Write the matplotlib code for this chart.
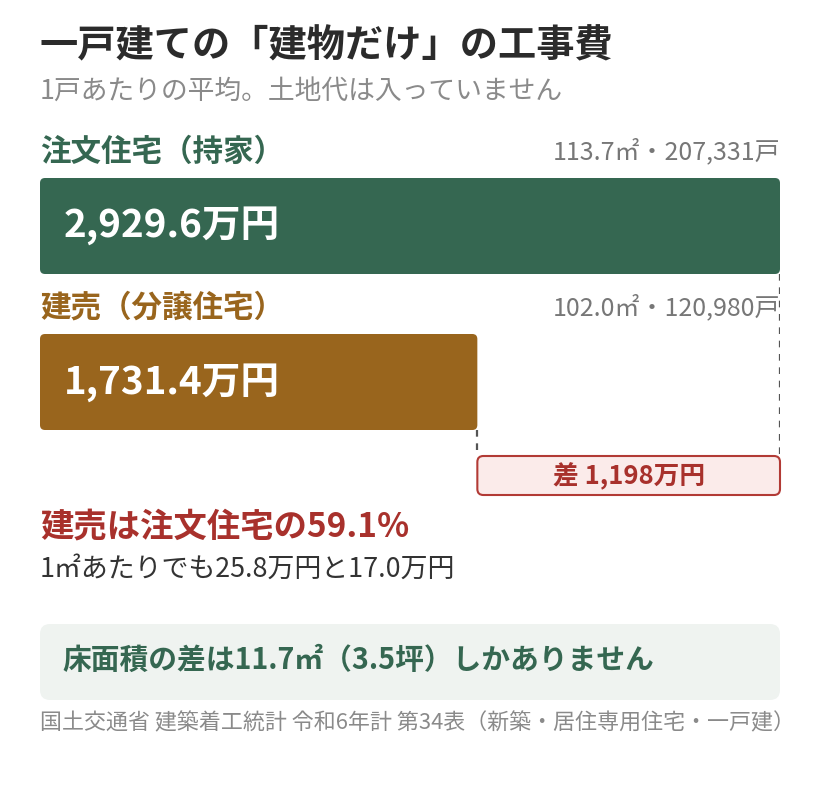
import matplotlib
matplotlib.use('Agg')
import matplotlib.pyplot as plt
from matplotlib.patches import FancyBboxPatch

plt.rcParams['font.family'] = ['Noto Sans CJK JP', 'DejaVu Sans']

# data (建築着工統計 令和6年計 第34表)
categories = ['注文住宅（持家）', '建売（分譲住宅）']
costs = [2929.6, 1731.4]          # 万円 / 戸
floor_area = [113.7, 102.0]       # ㎡
units = [207331, 120980]          # 戸

GREEN = '#356751'
BROWN = '#99651D'
RED = '#A8312C'
GRAY = '#777777'
DARK = '#333333'
bar_colors = [GREEN, BROWN]

W, H = 820, 800
fig = plt.figure(figsize=(W / 100, H / 100), dpi=100)

# overlay axes in pixel units for the text blocks
ov = fig.add_axes([0, 0, 1, 1])
ov.set_xlim(0, W)
ov.set_ylim(H, 0)
ov.axis('off')

# bar axes: x in 万円, one row per category (pitch 156px, bar 96px)
left, right, top, bottom = 40, 780, 178, 496
pitch = 156
bar_h = 96 / pitch
y0 = -bar_h / 2
y1 = y0 + (bottom - top) / pitch
ax = fig.add_axes([left / W, 1 - bottom / H, (right - left) / W, (bottom - top) / H])
ax.set_xlim(0, max(costs))
ax.set_ylim(y1, y0)
ax.axis('off')

x_per_px = max(costs) / (right - left)
y_per_px = 1 / pitch
aspect = y_per_px / x_per_px

bars = ax.barh(range(len(costs)), costs, height=bar_h, color=bar_colors)
for b, c in zip(bars, bar_colors):
    x, y = b.get_x(), b.get_y()
    w, h = b.get_width(), b.get_height()
    b.remove()
    ax.add_patch(FancyBboxPatch((x, y), w, h,
                                boxstyle=f'round,pad=0,rounding_size={5 * x_per_px}',
                                mutation_aspect=aspect, fc=c, ec='none'))

for i, (cat, v, a, n, c) in enumerate(zip(categories, costs, floor_area, units, bar_colors)):
    ycat = i - bar_h / 2 - 26 * y_per_px
    ax.text(0, ycat, cat, color=c, fontsize=22, fontweight='bold',
            ha='left', va='center', clip_on=False)
    ax.text(max(costs), ycat, f'{a:.1f}㎡・{n:,}戸', color=GRAY, fontsize=18,
            ha='right', va='center', clip_on=False)
    ax.text(24 * x_per_px, i, f'{v:,.1f}万円', color='white', fontsize=27.8,
            fontweight='bold', ha='left', va='center')

# difference bracket
diff = costs[0] - costs[1]
box_top = y1 - 40 * y_per_px
ax.plot([costs[0]] * 2, [0 + bar_h / 2, box_top], ls=(0, (3, 3)), color='#555555', lw=1.6)
ax.plot([costs[1]] * 2, [1 + bar_h / 2, box_top], ls=(0, (3, 3)), color='#555555', lw=1.6)
ax.add_patch(FancyBboxPatch((costs[1], box_top), diff, y1 - box_top - 1 * y_per_px,
                            boxstyle=f'round,pad=0,rounding_size={6 * x_per_px}',
                            mutation_aspect=aspect, fc='#FBEBEA', ec='#B23A35', lw=1.5,
                            clip_on=False))
ax.text(costs[1] + diff / 2, (box_top + y1) / 2, f'差 {diff:,.0f}万円', color=RED,
        fontsize=18.5, fontweight='bold', ha='center', va='center')

# headings
ov.text(40, 46, '一戸建ての「建物だけ」の工事費', fontsize=27.5, fontweight='bold',
        color='#2b2b2b', ha='left', va='center')
ov.text(40, 91, '1戸あたりの平均。土地代は入っていません', fontsize=19.3,
        color='#8a8a8a', ha='left', va='center')

# summary
ratio = costs[1] / costs[0] * 100
ov.text(40, 527, f'建売は注文住宅の{ratio:.1f}%', fontsize=24, fontweight='bold',
        color=RED, ha='left', va='center')
per_m2 = [c / a for c, a in zip(costs, floor_area)]
ov.text(40, 569, f'1㎡あたりでも{per_m2[0]:.1f}万円と{per_m2[1]:.1f}万円', fontsize=19.4,
        color=DARK, ha='left', va='center')

area_diff = floor_area[0] - floor_area[1]
tsubo = area_diff / 3.305785
ov.add_patch(FancyBboxPatch((40, 624), 740, 76, boxstyle='round,pad=0,rounding_size=10',
                            fc='#EFF3F0', ec='none'))
ov.text(62, 660, f'床面積の差は{area_diff:.1f}㎡（{tsubo:.1f}坪）しかありません', fontsize=20.7,
        fontweight='bold', color=GREEN, ha='left', va='center')

ov.text(40, 723, '国土交通省 建築着工統計 令和6年計 第34表（新築・居住専用住宅・一戸建）',
        fontsize=15.8, color='#8a8a8a', ha='left', va='center')

fig.savefig('out.png', dpi=100, facecolor='white')
